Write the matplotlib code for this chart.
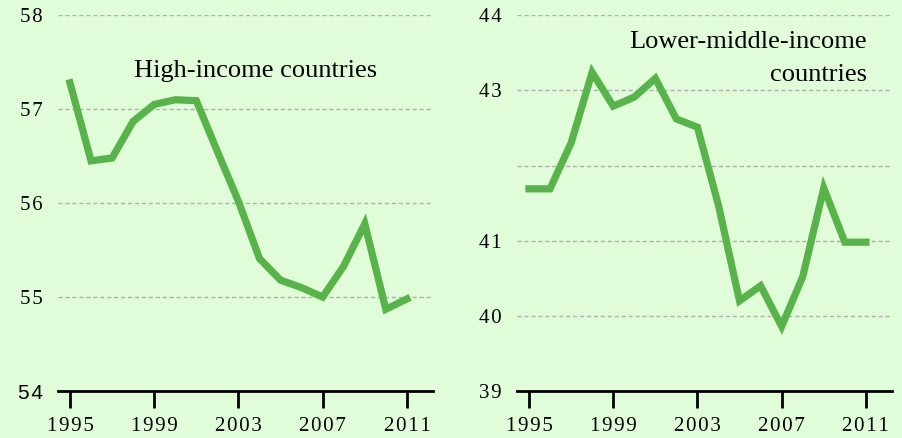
import matplotlib
matplotlib.use("Agg")
import matplotlib.pyplot as plt

years = list(range(1995, 2012))
high_income = [57.28, 56.45, 56.48, 56.87, 57.05, 57.10, 57.09, 56.55, 56.02,
               55.41, 55.18, 55.10, 55.00, 55.33, 55.78, 54.87, 54.98]
lower_middle = [41.69, 41.69, 42.30, 43.24, 42.79, 42.91, 43.16, 42.62, 42.51,
                41.47, 40.20, 40.40, 39.86, 40.52, 41.70, 40.98, 40.98]
xticks = [1995, 1999, 2003, 2007, 2011]

bg = "#e0fcd8"
green = "#58b34a"
serif = ["Liberation Serif", "DejaVu Serif"]


def spaced(s):
    # reference digits are set with a little extra letter spacing
    return "\u200a".join(str(s))


fig = plt.figure(figsize=(9.03, 4.38), dpi=100, facecolor=bg)
ax1 = fig.add_axes([0.0642, 0.1073, 0.4153, 0.858])
ax2 = fig.add_axes([0.5725, 0.1073, 0.4153, 0.858])


def style(ax, ylim, grid, ticks):
    ax.set_facecolor(bg)
    ax.set_xlim(1994.43, 2012.24)
    ax.set_ylim(*ylim)
    for g in grid:
        ax.axhline(g, color="#b0b0b0", lw=1, ls=(0, (3, 2)), zorder=1)
    for s in ["left", "right", "top"]:
        ax.spines[s].set_visible(False)
    ax.spines["bottom"].set_linewidth(2)
    ax.set_xticks(xticks)
    ax.set_xticklabels([spaced(x) for x in xticks], fontfamily=serif, fontsize=15)
    ax.tick_params(axis="x", direction="out", length=12, width=2, pad=7)
    ax.set_yticks(ticks)
    ax.set_yticklabels([spaced(t) for t in ticks], fontfamily=serif, fontsize=15)
    ax.tick_params(axis="y", length=0, pad=11)


style(ax1, (54, 58), [55, 56, 57, 58], [54, 55, 56, 57, 58])
ax1.get_yticklabels()[0].set_fontfamily("Liberation Sans")
ax1.get_yticklabels()[0].set_text("54")
ax1.plot(years, high_income, color=green, lw=5.2, solid_joinstyle="miter", zorder=3)
ax1.text(2003.8, 57.34, "High-income countries", fontfamily=serif, fontsize=19,
         ha="center", va="baseline")

style(ax2, (39, 44), [40, 41, 42, 43, 44], [39, 40, 41, 43, 44])
ax2.plot(years, lower_middle, color=green, lw=5.2, solid_joinstyle="miter", zorder=3)
ax2.text(2011.05, 43.56, "Lower-middle-income", fontfamily=serif,
         fontsize=19, ha="right", va="baseline")
ax2.text(2011.05, 43.13, "countries", fontfamily=serif,
         fontsize=19, ha="right", va="baseline")

fig.savefig("out.png", dpi=100, facecolor=bg)
